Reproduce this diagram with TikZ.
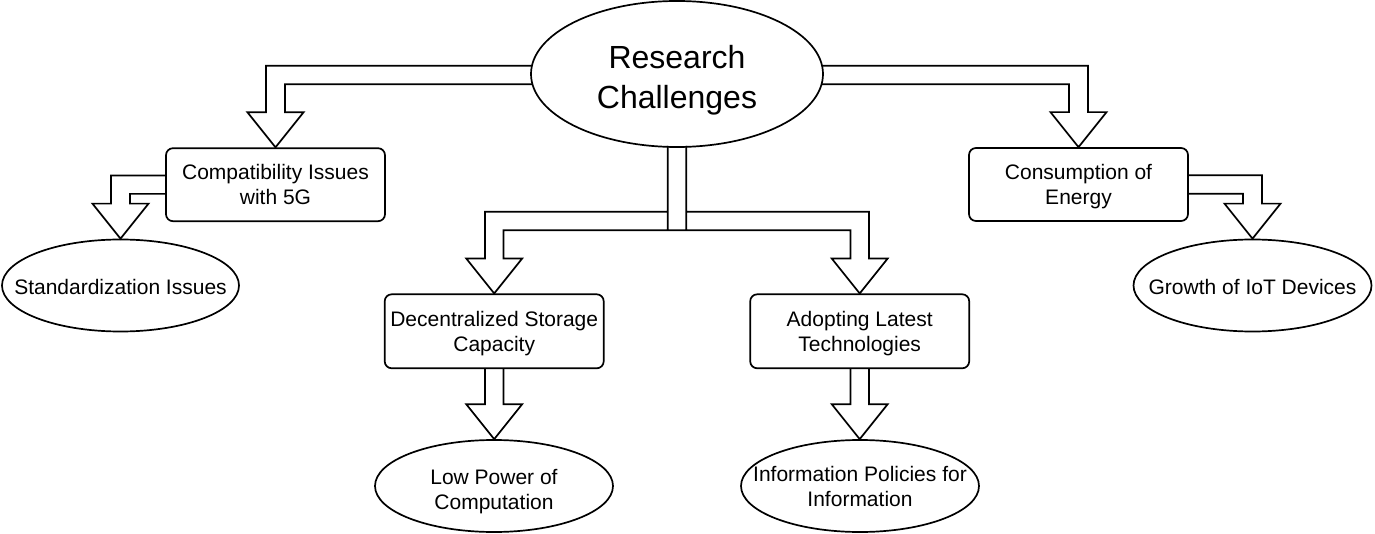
\documentclass[tikz,border=0pt]{standalone}
\usepackage{fontspec}
\setmainfont{Liberation Sans}
\usetikzlibrary{shapes.geometric,calc}
\begin{document}
\begin{tikzpicture}[x=1pt,y=-1pt,
  line width=1.7pt,
  box/.style={draw, rounded corners=7pt, minimum width=219pt, minimum height=73pt,
    inner sep=0pt, align=center, font=\fontsize{21}{25}\selectfont},
  oval/.style={draw, ellipse, minimum width=238pt, minimum height=92pt,
    inner xsep=-50pt, inner ysep=0pt, align=center, font=\fontsize{21}{25}\selectfont},
  harrow/.style={draw, line join=miter}]
\fill[white] (0,0) rectangle (1375,534);
\useasboundingbox (0,0) rectangle (1375,534);

% nodes
\node[draw, ellipse, minimum width=292pt, minimum height=146pt, inner sep=0pt,
  align=center, font=\fontsize{32}{40}\selectfont] (main) at (677,74)
  {\rule{0pt}{35pt}Research\\Challenges};
\node[box] (comp) at (275.5,184.7) {Compatibility Issues\\with 5G};
\node[box] (cons) at (1078.5,184.5) {\rule{0pt}{19.4pt}Consumption of\\Energy};
\node[box, minimum height=74pt] (dec) at (494.2,331.3) {\rule{0pt}{18.8pt}Decentralized Storage\\Capacity};
\node[box, minimum height=74pt] (adopt) at (859.7,331.3) {\rule{0pt}{18.8pt}Adopting Latest\\Technologies};
\node[oval, minimum width=237pt] (std) at (120.5,285.5) {\rule{0pt}{19pt}Standardization Issues};
\node[oval] (iot) at (1252.5,285.5) {\rule{0pt}{19pt}Growth of IoT Devices};
\node[oval] (low) at (494,486) {\rule{0pt}{25.4pt}Low Power of\\Computation};
\node[oval] (info) at (860,486) {\rule{0pt}{16.4pt}Information Policies for\\Information};
\coordinate (split) at (677.5,221);

% main -> compatibility
\draw[harrow] let \p1=($(main.west)+(0,1)$), \p2=(comp.north) in
  (\x1+2pt,\y1+9.2pt) -- (\x2-9.5pt,\y1+9.2pt) -- (\x2-9.5pt,\y2+35pt) -- (\x2-28pt,\y2+35pt)
  -- (\p2) -- (\x2+28pt,\y2+35pt) -- (\x2+9.5pt,\y2+35pt) -- (\x2+9.5pt,\y1-9.2pt) -- (\x1+2pt,\y1-9.2pt);
% main -> consumption
\draw[harrow] let \p1=($(main.east)+(0,1)$), \p2=(cons.north) in
  (\x1-2pt,\y1+9.2pt) -- (\x2+9.5pt,\y1+9.2pt) -- (\x2+9.5pt,\y2+35pt) -- (\x2+28pt,\y2+35pt)
  -- (\p2) -- (\x2-28pt,\y2+35pt) -- (\x2-9.5pt,\y2+35pt) -- (\x2-9.5pt,\y1-9.2pt) -- (\x1-2pt,\y1-9.2pt);
% compatibility -> standardization
\draw[harrow] let \p1=(comp.west), \p2=(std.north) in
  (\x1,\y1+9.2pt) -- (\x2-9.5pt,\y1+9.2pt) -- (\x2-9.5pt,\y2+35pt) -- (\x2-28pt,\y2+35pt)
  -- (\p2) -- (\x2+28pt,\y2+35pt) -- (\x2+9.5pt,\y2+35pt) -- (\x2+9.5pt,\y1-9.2pt) -- (\x1,\y1-9.2pt);
% consumption -> growth
\draw[harrow] let \p1=(cons.east), \p2=(iot.north) in
  (\x1,\y1+9.2pt) -- (\x2+9.5pt,\y1+9.2pt) -- (\x2+9.5pt,\y2+35pt) -- (\x2+28pt,\y2+35pt)
  -- (\p2) -- (\x2-28pt,\y2+35pt) -- (\x2-9.5pt,\y2+35pt) -- (\x2-9.5pt,\y1-9.2pt) -- (\x1,\y1-9.2pt);
% main -> split -> decentralized / adopting
\draw[harrow] let \p1=(main.south), \p4=(split), \p2=(dec.north), \p3=(adopt.north) in
  (\x1-9.3pt,\y1+2pt) -- (\x1-9.3pt,\y4-9.3pt)
  (\x1+9.3pt,\y1+2pt) -- (\x1+9.3pt,\y4-9.3pt)
  (\x1-9.3pt,\y4+9.3pt) -- (\x2-9.3pt,\y4+9.3pt) -- (\x2-9.3pt,\y2+35pt) -- (\x2-28pt,\y2+35pt)
  -- (\p2) -- (\x2+28pt,\y2+35pt) -- (\x2+9.3pt,\y2+35pt) -- (\x2+9.3pt,\y4-9.3pt)
  -- (\x3-9.3pt,\y4-9.3pt) -- (\x3-9.3pt,\y3+35pt) -- (\x3-28pt,\y3+35pt)
  -- (\p3) -- (\x3+28pt,\y3+35pt) -- (\x3+9.3pt,\y3+35pt) -- (\x3+9.3pt,\y4+9.3pt)
  -- (\x1+9.3pt,\y4+9.3pt);
% decentralized -> low power
\draw[harrow] let \p1=(dec.south), \p2=(low.north) in
  (\x1-9.3pt,\y1) -- (\x1-9.3pt,\y2+35pt) -- (\x1-28pt,\y2+35pt) -- (\x1,\y2)
  -- (\x1+28pt,\y2+35pt) -- (\x1+9.3pt,\y2+35pt) -- (\x1+9.3pt,\y1);
% adopting -> information
\draw[harrow] let \p1=(adopt.south), \p2=(info.north) in
  (\x1-9.3pt,\y1) -- (\x1-9.3pt,\y2+35pt) -- (\x1-28pt,\y2+35pt) -- (\x1,\y2)
  -- (\x1+28pt,\y2+35pt) -- (\x1+9.3pt,\y2+35pt) -- (\x1+9.3pt,\y1);
\end{tikzpicture}
\end{document}
